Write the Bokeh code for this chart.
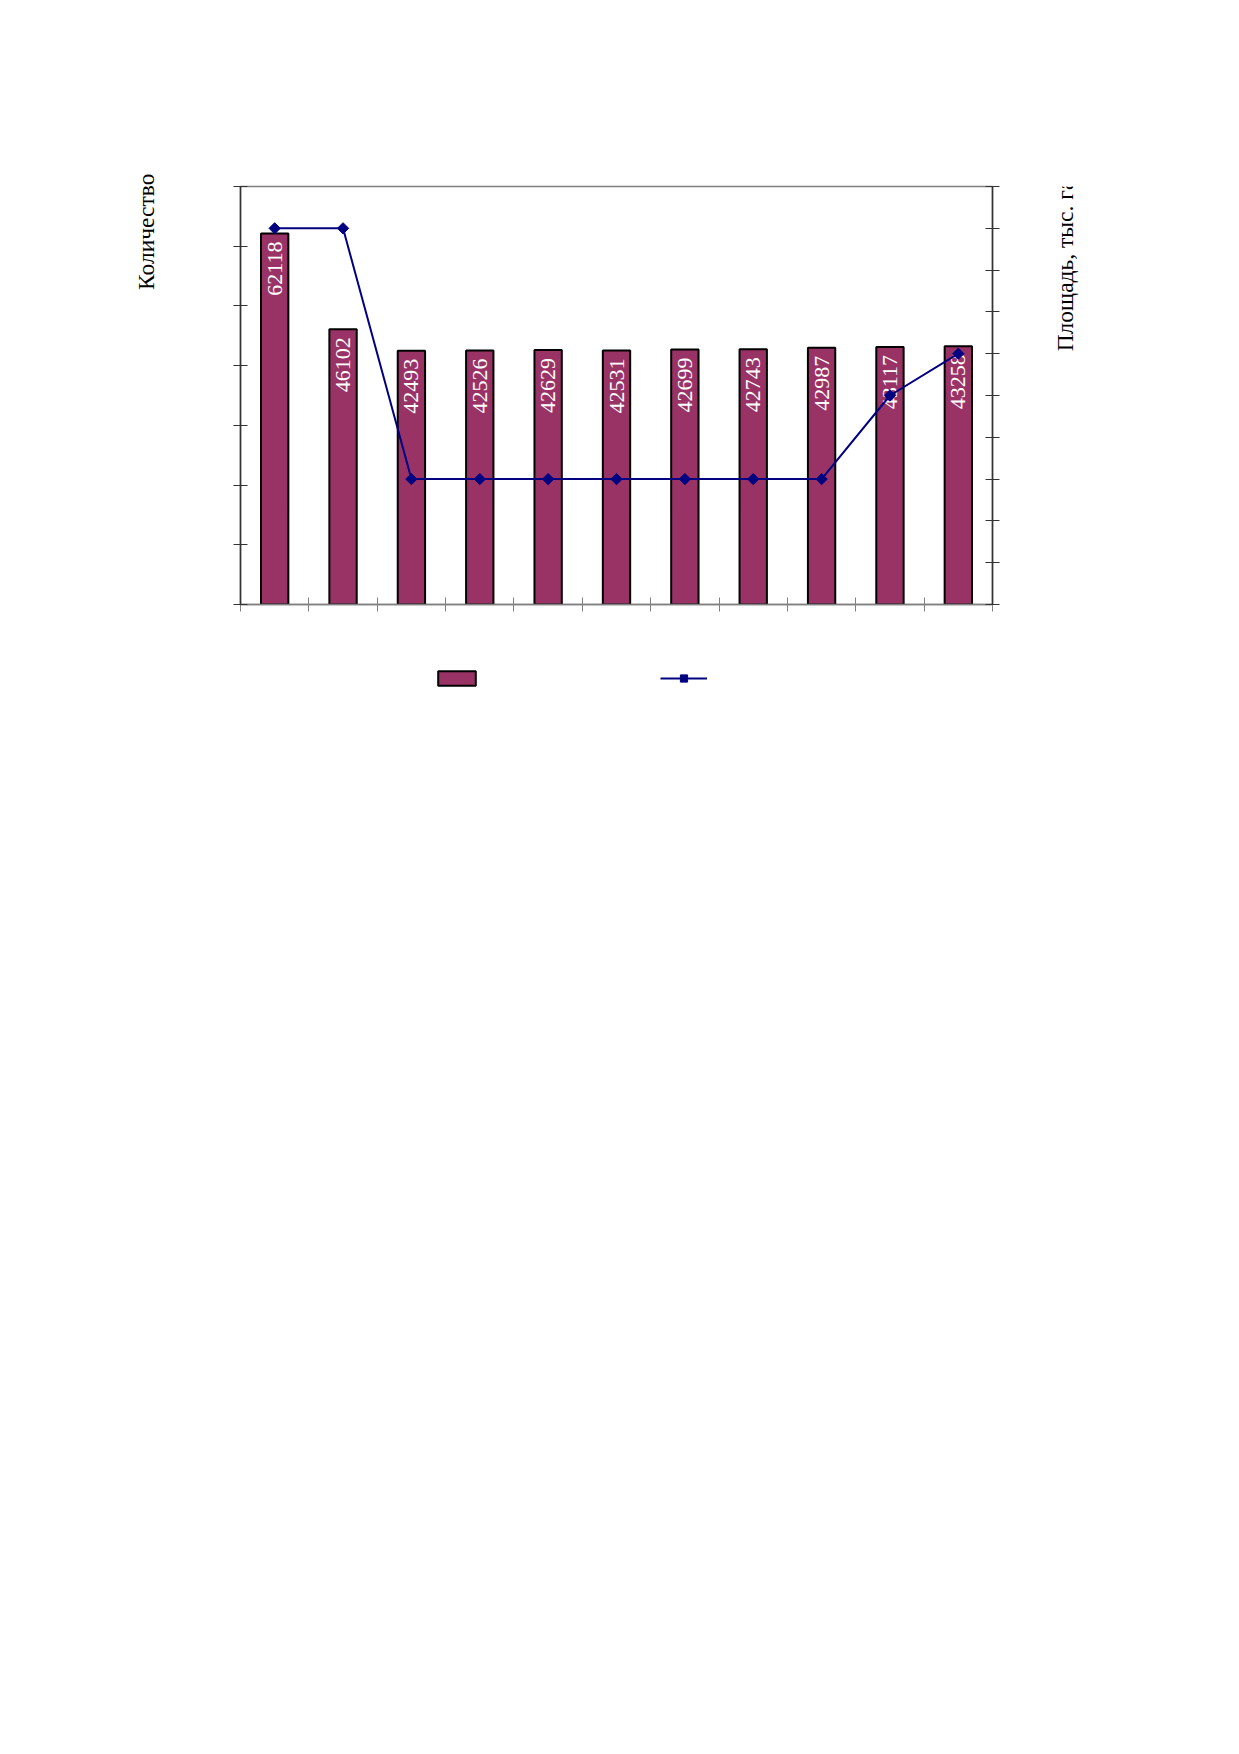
import math
from bokeh.plotting import figure
from bokeh.layouts import row
from bokeh.models import (Range1d, LinearAxis, FixedTicker, Title, Legend, LegendItem,
                          ColumnDataSource, CustomJSTickFormatter)
from bokeh.core.properties import value
from bokeh.embed import file_html
from bokeh.resources import INLINE

# ---- data ----
positions = [1, 2, 3, 4, 5, 6, 7, 8, 9, 10, 11]
counts = [62118, 46102, 42493, 42526, 42629, 42531, 42699, 42743, 42987, 43117, 43258]
area = [9, 9, 3, 3, 3, 3, 3, 3, 3, 5, 6]
count_ticks = [0, 10000, 20000, 30000, 40000, 50000, 60000, 70000]
area_ticks = [0, 1, 2, 3, 4, 5, 6, 7, 8, 9, 10]
cat_bounds = [0.5, 1.5, 2.5, 3.5, 4.5, 5.5, 6.5, 7.5, 8.5, 9.5, 10.5, 11.5]
left_title = "Количество"
right_title = "Площадь, тыс. га"

SERIF = "Liberation Serif"

src = ColumnDataSource(dict(x=positions, count=counts, area=area,
                            lbl=[str(c) for c in counts]))

p = figure(output_backend="svg", toolbar_location=None,
           frame_width=752, frame_height=418,
           min_border_left=240, min_border_right=48,
           min_border_top=186, min_border_bottom=100,
           x_range=Range1d(cat_bounds[0], cat_bounds[-1]),
           y_range=Range1d(count_ticks[0], count_ticks[-1]),
           background_fill_color="white", border_fill_color="white",
           x_axis_location=None, y_axis_location=None)
p.outline_line_color = "#808080"
p.outline_line_width = 1.5
p.xgrid.visible = False
p.ygrid.visible = False

empty = CustomJSTickFormatter(code="return ''")

p.extra_y_ranges = {"area": Range1d(area_ticks[0], area_ticks[-1])}

left = LinearAxis(ticker=FixedTicker(ticks=count_ticks), formatter=empty,
                  axis_line_color="#333333", axis_line_width=1.5,
                  major_tick_line_color="#333333", major_tick_in=7, major_tick_out=7,
                  minor_tick_line_color=None, major_label_text_font_size="1px")
right = LinearAxis(y_range_name="area", ticker=FixedTicker(ticks=area_ticks), formatter=empty,
                   axis_line_color="#333333", axis_line_width=1.5,
                   major_tick_line_color="#333333", major_tick_in=7, major_tick_out=7,
                   minor_tick_line_color=None, major_label_text_font_size="1px")
bottom = LinearAxis(ticker=FixedTicker(ticks=cat_bounds), formatter=empty,
                    axis_line_color="#808080", axis_line_width=1.5,
                    major_tick_line_color="#808080", major_tick_in=7, major_tick_out=7,
                    minor_tick_line_color=None, major_label_text_font_size="1px")
p.add_layout(left, "left")
p.add_layout(right, "right")
p.add_layout(bottom, "below")

bars = p.vbar(x="x", top="count", width=0.4, source=src,
              fill_color="#993366", line_color="black", line_width=2)

p.text(x="x", y="count", text="lbl", source=src, angle=math.pi / 2,
       text_align="right", text_baseline="middle", y_offset=8,
       text_color="white", text_font=value(SERIF), text_font_size="22px")

ln = p.line(x="x", y="area", source=src, y_range_name="area",
            line_color="#000080", line_width=2)
mk = p.scatter(x="x", y="area", source=src, y_range_name="area",
               marker="square", angle=math.pi / 4, size=8,
               fill_color="#000080", line_color="#000080")

p.add_layout(Title(text=left_title, align="right", offset=-13, standoff=149,
                   text_font=SERIF, text_font_size="23.5px", text_font_style="normal",
                   text_color="black"), "left")

legend = Legend(items=[LegendItem(label=" ", renderers=[bars]),
                       LegendItem(label=" ", renderers=[ln, mk])],
                location=(193, 665), orientation="horizontal",
                glyph_width=47, glyph_height=18, label_height=18, label_width=157,
                label_standoff=3, spacing=20, margin=0, padding=0,
                border_line_alpha=0, background_fill_alpha=0,
                label_text_font_size="8px")
p.add_layout(legend, "below")

# narrow strip to the right of the chart carrying the right-hand axis title;
# its frame is aligned with the main frame by the row layout
STRIP_H = 418
q = figure(output_backend="svg", toolbar_location=None,
           frame_width=70, frame_height=STRIP_H, min_border=0,
           x_range=Range1d(0, 70), y_range=Range1d(STRIP_H, 0),
           x_axis_location=None, y_axis_location=None,
           background_fill_color="white", border_fill_color="white")
q.outline_line_color = None
q.xgrid.visible = False
q.ygrid.visible = False
q.text(x=[24], y=[79], text=[right_title], angle=math.pi / 2,
       text_align="center", text_baseline="middle",
       text_color="black", text_font=value(SERIF), text_font_size="23.5px")

layout = row(p, q)

open("out.html", "w").write(file_html(layout, INLINE))
